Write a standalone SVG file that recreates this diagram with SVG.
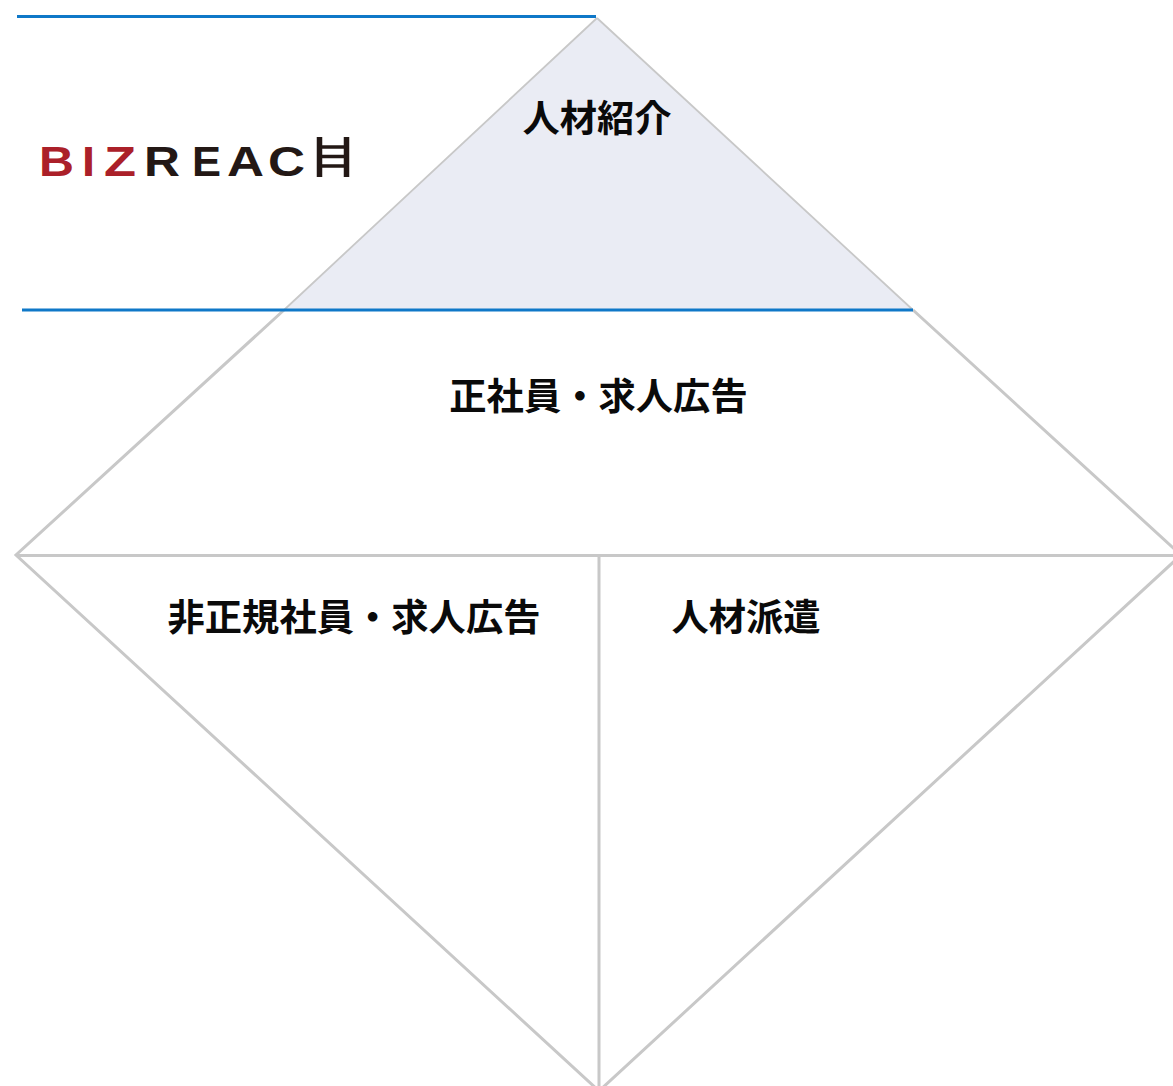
<svg xmlns="http://www.w3.org/2000/svg" width="1173" height="1086" viewBox="0 0 1173 1086">
<style>
.edge{fill:none;stroke:#c8c8c8;stroke-width:3}
.thin{stroke-width:1.8}
.blue{fill:none;stroke:#0f78c8;stroke-width:3}
.label{font-family:"Noto Sans CJK JP","Noto Sans",sans-serif;font-weight:700;font-size:37.300px;fill:#0a0a0a;text-anchor:middle}
.logo{font-family:"Liberation Sans",Arial,sans-serif;font-size:42px;font-weight:700}
.red{fill:#ab2029}
.dark{fill:#231815}
</style>
<rect width="1173" height="1086" fill="#fff"/>
<g id="tier-top">
<polygon points="597,18 913,310 284,310" fill="#eaecf4"/>
<text class="label" x="597" y="132">人材紹介</text>
</g>
<g id="tier-middle">
<text class="label" x="598.500" y="410">正社員・求人広告</text>
</g>
<g id="tier-left">
<text class="label" x="354" y="631">非正規社員・求人広告</text>
</g>
<g id="tier-right">
<text class="label" x="746" y="631">人材派遣</text>
</g>
<g id="logo">
<text class="logo red" x="39" y="176" textLength="35" lengthAdjust="spacingAndGlyphs">B</text>
<text class="logo red" x="82" y="176" textLength="13" lengthAdjust="spacingAndGlyphs">I</text>
<text class="logo red" x="104" y="176" textLength="32" lengthAdjust="spacingAndGlyphs">Z</text>
<text class="logo dark" x="144" y="176" textLength="36" lengthAdjust="spacingAndGlyphs">R</text>
<text class="logo dark" x="192" y="176" textLength="29" lengthAdjust="spacingAndGlyphs">E</text>
<text class="logo dark" x="227" y="176" textLength="37" lengthAdjust="spacingAndGlyphs">A</text>
<text class="logo dark" x="268" y="176" textLength="37" lengthAdjust="spacingAndGlyphs">C</text>
<path d="M319.500 137V177M346.500 137V177" fill="none" stroke="#231815" stroke-width="5.500"/>
<path d="M319 147H347M319 156.500H347M319 166H347" fill="none" stroke="#231815" stroke-width="3.500"/>
</g>
<g id="connectors">
<path class="edge thin" d="M597 18L913 310M597 18L284 310"/>
<path class="edge" d="M913 310L1181 555L599 1091L16 555L284 310"/>
<path class="edge" d="M16 555.500H1173M599 555.500V1086"/>
<path class="blue" d="M17 16.500H596M22 310H913"/>
</g>
</svg>
